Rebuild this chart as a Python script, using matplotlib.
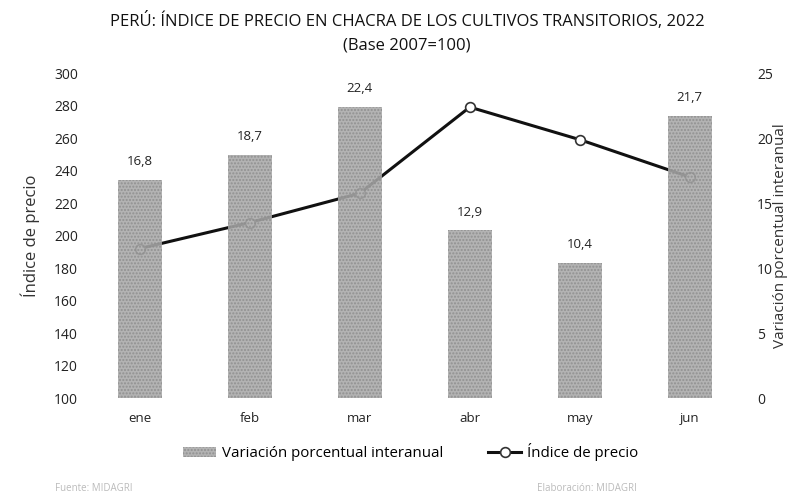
import matplotlib.pyplot as plt
import numpy as np

plt.rcParams['font.family'] = ['Open Sans', 'DejaVu Sans']

meses = ['ene', 'feb', 'mar', 'abr', 'may', 'jun']
variacion = [16.8, 18.7, 22.4, 12.9, 10.4, 21.7]
indice = [192, 208, 226, 279, 259, 236]
etiquetas = ['16,8', '18,7', '22,4', '12,9', '10,4', '21,7']

fig = plt.figure(figsize=(7.9, 4.98), dpi=100)
ax = fig.add_axes([0.1076, 0.2008, 0.835, 0.6526])
ax2 = ax.twinx()

x = np.arange(len(meses))

# line on the left axis, drawn under the bars
ax.plot(x, indice, color='#111111', lw=2.2, marker='o', markersize=7,
        markerfacecolor='white', markeredgecolor='#333333', markeredgewidth=1.2,
        zorder=1)

bars = ax2.bar(x, variacion, width=0.4, color='#a9a9a9', alpha=0.88,
               hatch='.....', edgecolor='#8c8c8c', linewidth=0)
for xi, v, t in zip(x, variacion, etiquetas):
    ax2.text(xi, v + 0.9, t, ha='center', va='bottom', fontsize=9.5, color='#222222')

ax.set_xlim(-0.5, 5.5)
ax.set_ylim(100, 300)
ax.set_yticks(np.arange(100, 301, 20))
ax2.set_ylim(0, 25)
ax2.set_yticks(np.arange(0, 26, 5))
ax.set_xticks(x)
ax.set_xticklabels(meses)

for a in (ax, ax2):
    for s in a.spines.values():
        s.set_visible(False)
ax.tick_params(axis='y', length=0, pad=5, labelsize=10, labelcolor='#222222')
ax.tick_params(axis='x', length=0, pad=10, labelsize=9.5, labelcolor='#222222')
ax2.tick_params(axis='y', length=0, pad=9, labelsize=10, labelcolor='#222222')

ax.set_ylabel('Índice de precio', fontsize=12, color='#333333', labelpad=10)
ax2.set_ylabel('Variación porcentual interanual', fontsize=11, color='#333333', labelpad=0)

fig.text(0.515, 0.958, 'PERÚ: ÍNDICE DE PRECIO EN CHACRA DE LOS CULTIVOS TRANSITORIOS, 2022',
         ha='center', va='center', fontsize=12, color='#111111')
fig.text(0.515, 0.908, '(Base 2007=100)', ha='center', va='center', fontsize=12, color='#111111')

handles = [bars, ax.lines[0]]
fig.legend(handles, ['Variación porcentual interanual', 'Índice de precio'],
           loc='center', bbox_to_anchor=(0.52, 0.092), ncol=2, frameon=False,
           fontsize=10.8, handlelength=2.2, columnspacing=3, handletextpad=0.4)

fig.text(0.07, 0.02, 'Fuente: MIDAGRI', fontsize=7, color='#bbbbbb', va='center')
fig.text(0.68, 0.02, 'Elaboración: MIDAGRI', fontsize=7, color='#bbbbbb', va='center')

fig.savefig('out.png', dpi=100)
